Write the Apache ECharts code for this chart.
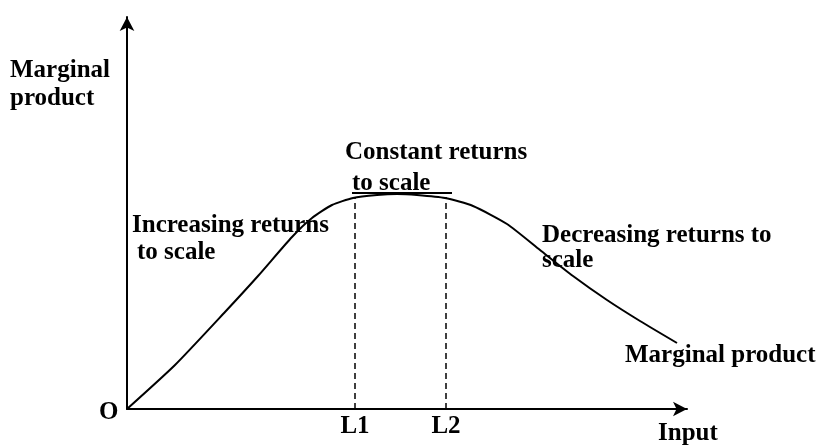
<!DOCTYPE html>
<html>
<head>
<meta charset="utf-8">
<script src="https://cdn.jsdelivr.net/npm/echarts@6/dist/echarts.min.js"></script>
<style>
  html, body { margin: 0; padding: 0; background: #fff; }
  #chart { width: 821px; height: 445px; }
</style>
</head>
<body>
<div id="chart"></div>
<script>
// curve (input, marginal product)
var inputs = [0, 48, 98, 131, 165, 185, 205, 226, 250, 270, 290, 318, 346, 380, 413, 446, 480, 513, 550];
var marginal = [0, 44, 97, 133, 172, 191, 204, 211, 214, 215, 214, 211, 203, 185, 159, 133, 109, 88, 66];
var markNames = ["L1", "L2"];
var markInputs = [228, 319];
var markHeights = [212, 212];

var font = "Liberation Serif";
var fs = 25;

function txt(x, y, s) {
  return {
    type: "text", left: x, top: y,
    style: { text: s, font: "bold " + fs + "px '" + font + "'", fill: "#000" }
  };
}

var chart = echarts.init(document.getElementById("chart"));
chart.setOption({
  animation: false,
  grid: { left: 127, right: 134, top: 17, bottom: 36 },
  xAxis: {
    type: "value", min: 0, max: 560,
    splitLine: { show: false },
    axisTick: { show: false },
    axisLine: { lineStyle: { color: "#000", width: 2 }, symbol: ["none", "arrow"], symbolSize: [11, 14] },
    axisLabel: {
      customValues: markInputs,
      formatter: function (v) { return markNames[markInputs.indexOf(v)] || ""; },
      color: "#000", fontFamily: font, fontWeight: "bold", fontSize: fs, margin: 5
    }
  },
  yAxis: {
    type: "value", min: 0, max: 392,
    splitLine: { show: false },
    axisTick: { show: false },
    axisLabel: { show: false },
    axisLine: { lineStyle: { color: "#000", width: 2 }, symbol: ["none", "arrow"], symbolSize: [11, 14] }
  },
  series: [
    {
      type: "line",
      data: inputs.map(function (x, i) { return [x, marginal[i]]; }),
      smooth: 0.2,
      symbol: "none",
      lineStyle: { color: "#000", width: 2 }
    },
    {
      type: "line",
      data: [],
      markLine: {
        silent: true, symbol: "none", label: { show: false },
        lineStyle: { color: "#000", width: 1.5, type: [6, 4] },
        data: markInputs.map(function (x, i) {
          return [{ coord: [x, 0] }, { coord: [x, markHeights[i]] }];
        })
      }
    }
  ],
  graphic: [
    txt(10, 58, "Marginal"),
    txt(10, 86, "product"),
    txt(345, 140, "Constant returns"),
    txt(352, 171, "to scale"),
    { type: "line", shape: { x1: 352, y1: 193, x2: 452, y2: 193 }, style: { stroke: "#000", lineWidth: 2 } },
    txt(132, 213, "Increasing returns"),
    txt(137, 240, "to scale"),
    txt(542, 223, "Decreasing returns to"),
    txt(542, 248, "scale"),
    txt(625, 343, "Marginal product"),
    txt(99, 400, "O"),
    txt(658, 421, "Input")
  ]
});
</script>
</body>
</html>
